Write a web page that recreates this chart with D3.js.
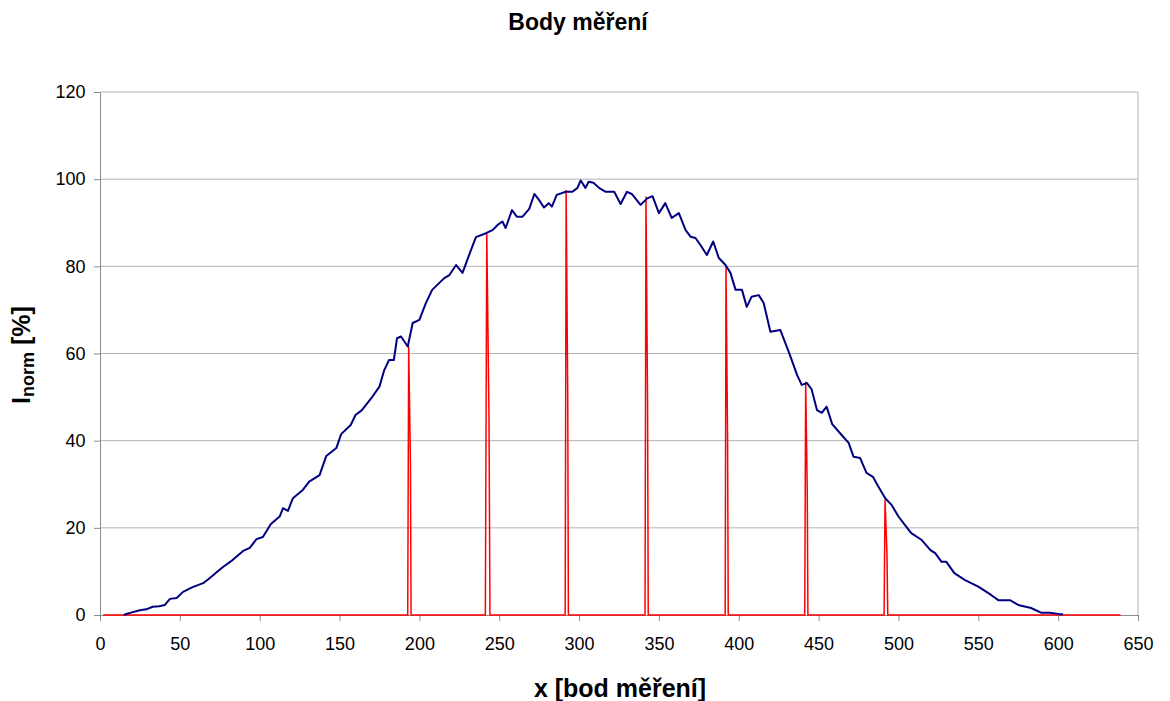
<!DOCTYPE html>
<html>
<head>
<meta charset="utf-8">
<script src="https://cdn.jsdelivr.net/npm/d3@7"></script>
<style>
  body { margin: 0; background: #fff; }
  text { font-family: "Liberation Sans", Arial, sans-serif; }
</style>
</head>
<body>
<div id="chart"></div>
<script>
const width = 1170;
const height = 701;
const margin = {top: 92, right: 32, bottom: 86, left: 100};

// measured curve (blue)
const blueX = [15, 17, 20, 25, 29, 33, 37, 40.6, 43.8, 48, 52, 58, 64.6, 68.8, 73, 77, 83, 89.6, 93.8, 98,
  102, 107, 112.5, 114.6, 117.7, 120.8, 127, 131, 137.5, 141.7, 148, 151, 157, 160, 164, 170, 175, 178, 181, 184,
  186, 188.5, 192.7, 195.8, 200, 204, 208, 212.5, 215.6, 218.8, 223, 227, 230, 235.4, 241.7, 245.8, 249, 252, 254, 258,
  261, 264.6, 268.8, 272, 275, 278, 281, 283, 286, 291.7, 295.8, 299, 301, 304, 306, 309, 312.5, 316.7, 322, 326,
  330, 333, 338.5, 342.7, 346, 350, 354, 358, 362.5, 366.7, 369.8, 372.9, 376, 380, 384, 387.5, 391.7, 394.8, 398, 402,
  405, 408, 412.5, 415.6, 419.8, 426, 432, 436.5, 439.4, 442.7, 445.6, 449, 452, 455, 458.5, 464.4, 468.8, 471.9, 476, 480,
  484, 487.5, 491.7, 495.8, 500, 504, 508, 514.6, 520, 523, 527, 530, 535, 541.7, 550, 558, 562.5, 569.8, 575, 583,
  589.6, 594.8, 601, 603];
const blueY = [0, 0.3, 0.6, 1.1, 1.3, 1.9, 2.0, 2.3, 3.7, 3.9, 5.3, 6.4, 7.3, 8.5, 9.8, 11, 12.6, 14.7, 15.4, 17.4,
  17.9, 20.9, 22.6, 24.5, 23.9, 26.8, 28.7, 30.6, 32.1, 36.5, 38.3, 41.5, 43.6, 45.9, 47, 49.8, 52.4, 56.2, 58.5, 58.5,
  63.5, 63.9, 61.6, 67, 67.7, 71.5, 74.6, 76.2, 77.3, 78, 80.3, 78.5, 81.5, 86.7, 87.6, 88.3, 89.5, 90.3, 88.8, 92.9,
  91.4, 91.4, 93.2, 96.6, 95.2, 93.5, 94.5, 93.7, 96.4, 97.1, 97.1, 98, 99.7, 98, 99.4, 99.2, 98, 97.1, 97.1, 94.3,
  97.1, 96.6, 94.1, 95.6, 96.1, 92.2, 94.5, 91.1, 92.2, 88.3, 86.8, 86.5, 84.9, 82.6, 85.7, 81.9, 80.3, 78.5, 74.6, 74.6,
  70.7, 73, 73.4, 71.6, 65, 65.4, 59.7, 55.1, 52.8, 53.2, 51.8, 47, 46.4, 47.8, 43.8, 41.3, 39.5, 36.3, 36, 32.6,
  31.7, 29.4, 26.8, 25.2, 22.6, 20.7, 18.8, 17.2, 14.9, 14.2, 12.2, 12.2, 9.6, 8, 6.5, 4.6, 3.4, 3.4, 2.3, 1.6,
  0.5, 0.5, 0.2, 0.2];

// measuring points (red spikes)
const redX = [2,
  192.7, 193.3, 194.4, 194.8,
  241.3, 242.2, 243.6, 244.2,
  291.3, 291.9, 292.9, 293.3,
  341.3, 341.9, 342.9, 343.3,
  391.5, 392.0, 393.0, 393.4,
  441.3, 441.9, 442.9, 443.3,
  491.0, 491.6, 492.8, 493.3,
  639];
const redY = [0,
  0, 61.6, 35, 0,
  0, 87.6, 45, 0,
  0, 97.5, 50, 0,
  0, 96, 48, 0,
  0, 80.3, 40, 0,
  0, 53.5, 28, 0,
  0, 26.5, 14, 0,
  0];

const xTicks = d3.range(0, 651, 50);
const yTicks = [0, 20, 40, 60, 80, 100, 120];

const svg = d3.select('#chart')
  .append('svg')
  .attr('width', width)
  .attr('height', height);

const x = d3.scaleLinear()
  .domain([0, 650])
  .range([margin.left, width - margin.right]);

const y = d3.scaleLinear()
  .domain([0, 120])
  .range([height - margin.bottom, margin.top]);

// gridlines
svg.append('g')
  .selectAll('line')
  .data(yTicks.filter(d => d > 0))
  .enter()
  .append('line')
  .attr('x1', x(0))
  .attr('x2', x(650))
  .attr('y1', d => y(d))
  .attr('y2', d => y(d))
  .attr('stroke', '#b4b4b4')
  .attr('stroke-width', 1);

// right border
svg.append('line')
  .attr('x1', x(650)).attr('x2', x(650))
  .attr('y1', y(0)).attr('y2', y(120))
  .attr('stroke', '#b4b4b4');

const xAxis = g => g
  .attr('transform', 'translate(0,' + y(0) + ')')
  .call(d3.axisBottom(x).tickValues(xTicks).tickSize(6).tickSizeOuter(0))
  .call(g => g.selectAll('text').attr('dy', '1.45em'));

const yAxis = g => g
  .attr('transform', 'translate(' + x(0) + ',0)')
  .call(d3.axisLeft(y).tickValues(yTicks).tickSize(6).tickSizeOuter(0))
  .call(g => g.selectAll('text').attr('dx', '-0.3em'));

svg.append('g').attr('class', 'x-axis').call(xAxis);
svg.append('g').attr('class', 'y-axis').call(yAxis);

svg.selectAll('.x-axis path, .y-axis path, .x-axis line, .y-axis line')
  .attr('stroke', '#8c8c8c');
svg.selectAll('.x-axis text, .y-axis text')
  .attr('font-size', 18)
  .attr('fill', '#000')
  .style('font-family', '"Liberation Sans", Arial, sans-serif');

const line = d3.line()
  .x(d => x(d[0]))
  .y(d => y(d[1]));

svg.append('path')
  .datum(redX.map((v, i) => [v, redY[i]]))
  .attr('fill', 'none')
  .attr('stroke', '#ff0000')
  .attr('stroke-width', 1.5)
  .attr('d', line);

svg.append('path')
  .datum(blueX.map((v, i) => [v, blueY[i]]))
  .attr('fill', 'none')
  .attr('stroke', '#000080')
  .attr('stroke-width', 2)
  .attr('stroke-linejoin', 'round')
  .attr('d', line);

// title and axis labels
svg.append('text')
  .attr('x', 578)
  .attr('y', 30)
  .attr('text-anchor', 'middle')
  .attr('font-size', 23)
  .attr('font-weight', 'bold')
  .text('Body měření');

svg.append('text')
  .attr('x', 620)
  .attr('y', 697)
  .attr('text-anchor', 'middle')
  .attr('font-size', 25)
  .attr('font-weight', 'bold')
  .text('x [bod měření]');

const yl = svg.append('text')
  .attr('transform', 'translate(30,355) rotate(-90)')
  .attr('text-anchor', 'middle')
  .attr('font-size', 25)
  .attr('font-weight', 'bold');
yl.append('tspan').text('I');
yl.append('tspan').attr('font-size', 18).attr('dy', 4).text('norm');
yl.append('tspan').attr('dy', -4).text('  [%]');
</script>
</body>
</html>
